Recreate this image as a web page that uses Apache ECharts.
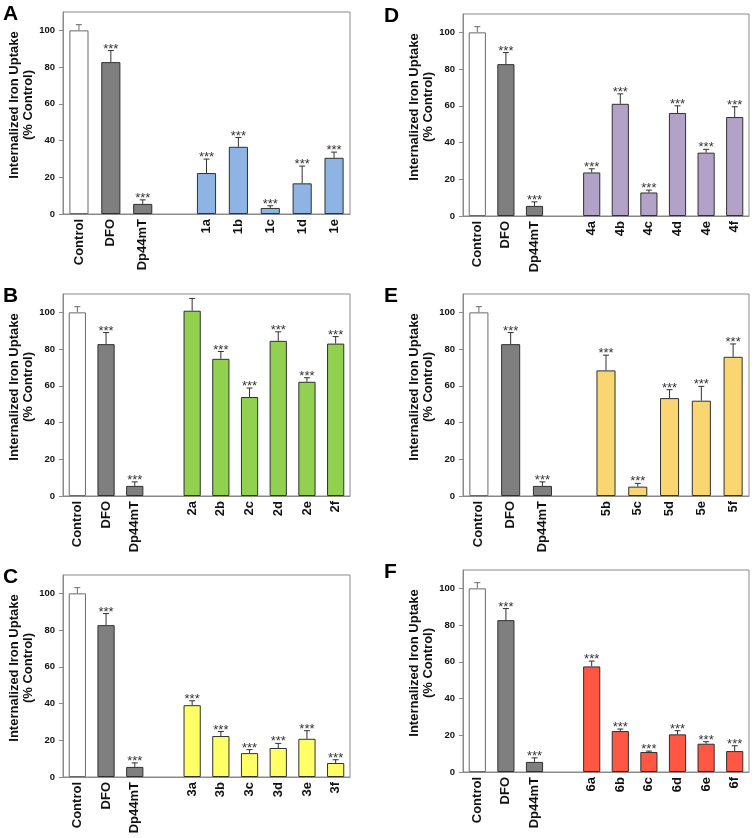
<!DOCTYPE html>
<html><head><meta charset="utf-8">
<script src="https://cdn.jsdelivr.net/npm/echarts@6/dist/echarts.min.js"></script>
<style>html,body{margin:0;padding:0;background:#fff}#c{width:754px;height:838px}</style>
</head><body><div id="c"></div>
<script>
// ---- data ----
const yTicks = [0, 20, 40, 60, 80, 100];
const yMax = 110;
const yName = 'Internalized Iron Uptake\n(% Control)';
const refCats = ['Control', 'DFO', 'Dp44mT'];
const refVals = [100, 82.7, 5.5];
const refErrs = [3.1, 6.3, 2.2];
const refStars = ['', '***', '***'];

const catsA = ['1a', '1b', '1c', '1d', '1e'];
const valsA = [22.3, 36.6, 3.3, 16.7, 30.6];
const errsA = [7.6, 5.1, 1.2, 9.4, 3.1];
const starsA = ['***', '***', '***', '***', '***'];

const catsB = ['2a', '2b', '2c', '2d', '2e', '2f'];
const valsB = [100.9, 74.7, 53.9, 84.5, 62.2, 83.0];
const errsB = [6.7, 4.0, 4.9, 4.9, 2.2, 3.8];
const starsB = ['', '***', '***', '***', '***', '***'];

const catsC = ['3a', '3b', '3c', '3d', '3e', '3f'];
const valsC = [39.1, 22.3, 13.0, 15.8, 20.8, 7.6];
const errsC = [2.4, 2.5, 1.9, 2.5, 4.4, 1.8];
const starsC = ['***', '***', '***', '***', '***', '***'];

const catsD = ['4a', '4b', '4c', '4d', '4e', '4f'];
const valsD = [23.7, 61.1, 12.8, 56.1, 34.5, 53.9];
const errsD = [2.0, 5.4, 1.3, 3.9, 1.8, 5.6];
const starsD = ['***', '***', '***', '***', '***', '***'];

const catsE = ['5b', '5c', '5d', '5e', '5f'];
const valsE = [68.4, 5.1, 53.3, 51.9, 75.8];
const errsE = [8.3, 1.8, 4.6, 7.8, 7.0];
const starsE = ['***', '***', '***', '***', '***'];

const catsF = ['6a', '6b', '6c', '6d', '6e', '6f'];
const valsF = [57.5, 22.3, 10.9, 20.5, 15.4, 11.4];
const errsF = [2.9, 1.1, 0.5, 2.0, 1.1, 2.9];
const starsF = ['***', '***', '***', '***', '***', '***'];

// ---- layout / styles ----
const FONT = '"Liberation Sans", Arial, Helvetica, sans-serif';
const panels = [
  {letter: 'A', cats: catsA, vals: valsA, errs: errsA, stars: starsA, color: '#8db4e2', grid: {left: 63, top: 12, width: 287, height: 202}},
  {letter: 'B', cats: catsB, vals: valsB, errs: errsB, stars: starsB, color: '#92d050', grid: {left: 63, top: 294, width: 287, height: 202}},
  {letter: 'C', cats: catsC, vals: valsC, errs: errsC, stars: starsC, color: '#ffff66', grid: {left: 63, top: 575, width: 287, height: 202}},
  {letter: 'D', cats: catsD, vals: valsD, errs: errsD, stars: starsD, color: '#b3a2c7', grid: {left: 463, top: 14, width: 286, height: 202}},
  {letter: 'E', cats: catsE, vals: valsE, errs: errsE, stars: starsE, color: '#f9d671', grid: {left: 463, top: 294, width: 286, height: 202}},
  {letter: 'F', cats: catsF, vals: valsF, errs: errsF, stars: starsF, color: '#ff5744', grid: {left: 463, top: 570, width: 286, height: 202}}
];
const refColors = ['#ffffff', '#7f7f7f', '#7f7f7f'];

const grids = [], xAxes = [], yAxes = [], series = [], graphics = [];
panels.forEach((p, k) => {
  const cats = refCats.concat([''], p.cats);
  const vals = refVals.concat(['-'], p.vals);
  const errs = refErrs.concat([0], p.errs);
  const stars = refStars.concat([''], p.stars);
  grids.push(Object.assign({show: true, borderColor: '#8a8a8a', borderWidth: 1, containLabel: false}, p.grid));
  xAxes.push({
    type: 'category', gridIndex: k, data: cats,
    axisLine: {lineStyle: {color: '#8a8a8a', width: 1}},
    axisTick: {show: false},
    axisLabel: {rotate: 90, margin: 5, interval: 0, color: '#111', fontFamily: FONT, fontWeight: 'bold', fontSize: 13}
  });
  yAxes.push({
    type: 'value', gridIndex: k, min: 0, max: yMax,
    name: yName, nameLocation: 'middle', nameGap: 23,
    nameTextStyle: {color: '#111', fontFamily: FONT, fontWeight: 'bold', fontSize: 13, lineHeight: 14, padding: [0, 0, 0, 16]},
    axisLine: {show: true, lineStyle: {color: '#8a8a8a', width: 1}},
    axisTick: {show: true, length: 4, lineStyle: {color: '#8a8a8a'}, customValues: yTicks},
    axisLabel: {color: '#111', fontFamily: FONT, fontWeight: 'bold', fontSize: 9.5, margin: 8, customValues: yTicks},
    splitLine: {show: false}
  });
  const barData = vals.map((v, i) => {
    let c = p.color, bc = '#303030';
    if (i < 3) { c = refColors[i]; bc = i === 0 ? '#6a6a6a' : '#303030'; }
    return {value: v, itemStyle: {color: c, borderColor: bc, borderWidth: 1}};
  });
  series.push({
    type: 'bar', xAxisIndex: k, yAxisIndex: k, data: barData, barWidth: '60%', animation: false, silent: true
  });
  const errData = [];
  vals.forEach((v, i) => { if (v !== '-') errData.push([i, v, errs[i]]); });
  const starMap = {};
  vals.forEach((v, i) => { starMap[i] = stars[i]; });
  series.push({
    type: 'custom', xAxisIndex: k, yAxisIndex: k, data: errData, animation: false, silent: true, clip: false,
    encode: {x: 0, y: 1},
    renderItem: function (params, api) {
      const i = api.value(0), v = api.value(1), e = api.value(2);
      const p0 = api.coord([i, v]);
      const p1 = api.coord([i, v + e]);
      const col = i === 0 ? '#6a6a6a' : '#303030';
      const children = [
        {type: 'line', shape: {x1: p0[0], y1: p0[1], x2: p1[0], y2: p1[1]}, style: {stroke: col, lineWidth: 1}},
        {type: 'line', shape: {x1: p1[0] - 3, y1: p1[1], x2: p1[0] + 3, y2: p1[1]}, style: {stroke: col, lineWidth: 1}}
      ];
      const s = starMap[i];
      if (s) {
        children.push({type: 'text', style: {text: s, x: p1[0], y: p1[1] + 5, align: 'center', verticalAlign: 'bottom', font: '13px ' + FONT, fill: '#333'}});
      }
      return {type: 'group', children: children};
    }
  });
  graphics.push({type: 'text', left: p.grid.left < 100 ? 3 : 384, top: p.grid.top - 8, style: {text: p.letter, font: 'bold 21px ' + FONT, fill: '#000'}});
});

const chart = echarts.init(document.getElementById('c'), null, {renderer: 'canvas'});
chart.setOption({
  animation: false, backgroundColor: '#ffffff',
  grid: grids, xAxis: xAxes, yAxis: yAxes, series: series, graphic: graphics
});
</script></body></html>
